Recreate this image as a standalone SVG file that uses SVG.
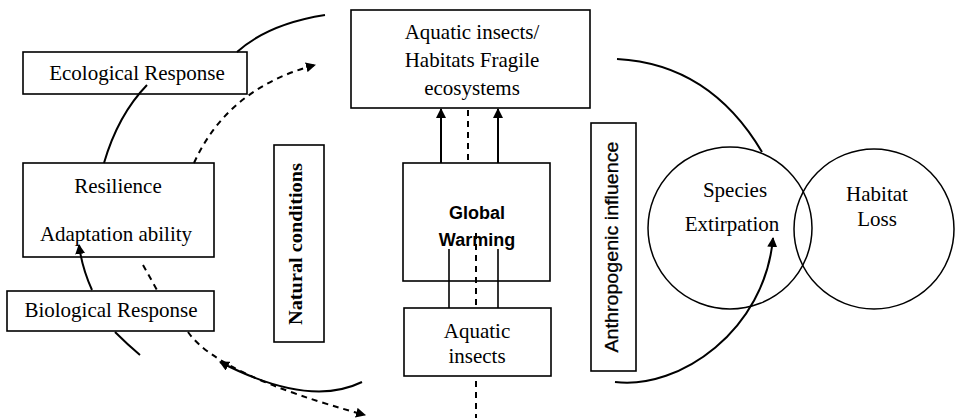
<svg xmlns="http://www.w3.org/2000/svg" width="955" height="420" viewBox="0 0 955 420">
<defs>
<marker id="ah" viewBox="0 0 10 10" refX="9" refY="5" markerWidth="10" markerHeight="10" markerUnits="userSpaceOnUse" orient="auto">
<path d="M0,0 L10,5 L0,10 Z" fill="#000"/>
</marker>
</defs>
<style>
.box{fill:#fff;stroke:#000;stroke-width:1.6}
.circ{fill:none;stroke:#000;stroke-width:1.5}
.c{fill:none;stroke:#000;stroke-width:2}
.l{fill:none;stroke:#000;stroke-width:1.6}
.d{fill:none;stroke:#000;stroke-width:2;stroke-dasharray:6,5}
.t{font-family:"Liberation Serif","Times New Roman",serif;font-size:21px;fill:#000;text-anchor:middle}
.tb{font-family:"Liberation Serif","Times New Roman",serif;font-size:18px;font-weight:bold;fill:#000;text-anchor:middle}
.s{font-family:"Liberation Sans",Arial,sans-serif;font-size:18px;font-weight:bold;fill:#000;text-anchor:middle}
.sv{font-family:"Liberation Sans",Arial,sans-serif;font-size:18px;fill:#000;text-anchor:middle;stroke:#000;stroke-width:0.3}
</style>
<rect width="955" height="420" fill="#fff"/>
<g id="ecological">
<rect class="box" x="23" y="52" width="224" height="42"/>
<text class="t" x="137" y="80">Ecological Response</text>
</g>
<g id="resilience">
<rect class="box" x="23" y="163" width="191" height="94"/>
<text class="t" x="118" y="193">Resilience</text>
<text class="t" x="116" y="241">Adaptation ability</text>
</g>
<g id="biological">
<rect class="box" x="7" y="291" width="207" height="40"/>
<text class="t" x="111" y="317">Biological Response</text>
</g>
<g id="natural">
<rect class="box" x="274" y="145" width="50" height="197"/>
<text class="tb" transform="translate(302,244) rotate(-90)" textLength="162" lengthAdjust="spacingAndGlyphs">Natural  conditions</text>
</g>
<g id="aquatic-habitats">
<rect class="box" x="351" y="10" width="239" height="98"/>
<text class="t" x="472" y="39">Aquatic insects/</text>
<text class="t" x="472" y="67">Habitats Fragile</text>
<text class="t" x="472" y="95">ecosystems</text>
</g>
<g id="global-warming">
<rect class="box" x="403" y="163" width="147" height="118"/>
<text class="s" x="477" y="219">Global</text>
<text class="s" x="477" y="246">Warming</text>
</g>
<g id="aquatic-insects">
<rect class="box" x="404" y="308" width="147" height="68"/>
<text class="t" x="477" y="338">Aquatic</text>
<text class="t" x="477" y="363">insects</text>
</g>
<g id="anthropogenic">
<rect class="box" x="591" y="123" width="45" height="248"/>
<text class="sv" transform="translate(618,247) rotate(-90)" textLength="211" lengthAdjust="spacingAndGlyphs">Anthropogenic influence</text>
</g>
<g id="species">
<ellipse class="circ" cx="730" cy="228" rx="82" ry="81"/>
<text class="t" x="735" y="197">Species</text>
<text class="t" x="732" y="231">Extirpation</text>
</g>
<g id="habitat">
<circle class="circ" cx="874" cy="229" r="80"/>
<text class="t" x="877" y="201" font-size="22">Habitat</text>
<text class="t" x="877" y="226" font-size="22">Loss</text>
</g>
<g id="connectors">
<path class="c" d="M237,52 Q268,24 325,15"/>
<path class="c" d="M147,85 Q118,115 104,163"/>
<path class="d" d="M194,163 Q228,88 315,65" marker-end="url(#ah)"/>
<path class="d" d="M143,265 L157,290"/>
<path class="d" d="M188,332 Q218,375 365,415" marker-end="url(#ah)"/>
<path class="c" d="M92,290 Q82,268 79,245" marker-end="url(#ah)"/>
<path class="c" d="M115,332 Q128,345 140,355"/>
<path class="c" d="M362,382 Q309,408 220,362" marker-end="url(#ah)"/>
<path class="c" d="M617,59 Q710,64 762,152"/>
<path class="c" d="M615,382 C680,390 765,330 773,238" marker-end="url(#ah)"/>
<path class="c" d="M441,163 L441,109" marker-end="url(#ah)"/>
<path class="c" d="M498,163 L498,109" marker-end="url(#ah)"/>
<path class="d" d="M468,110 L468,163" stroke-width="1.6"/>
<path class="l" d="M449,249 L449,308"/>
<path class="l" d="M498,249 L498,308"/>
<path class="d" d="M476,233 L476,308" stroke-width="1.6"/>
<path class="d" d="M476,381 L476,418" stroke-width="1.6"/>
</g>
</svg>
